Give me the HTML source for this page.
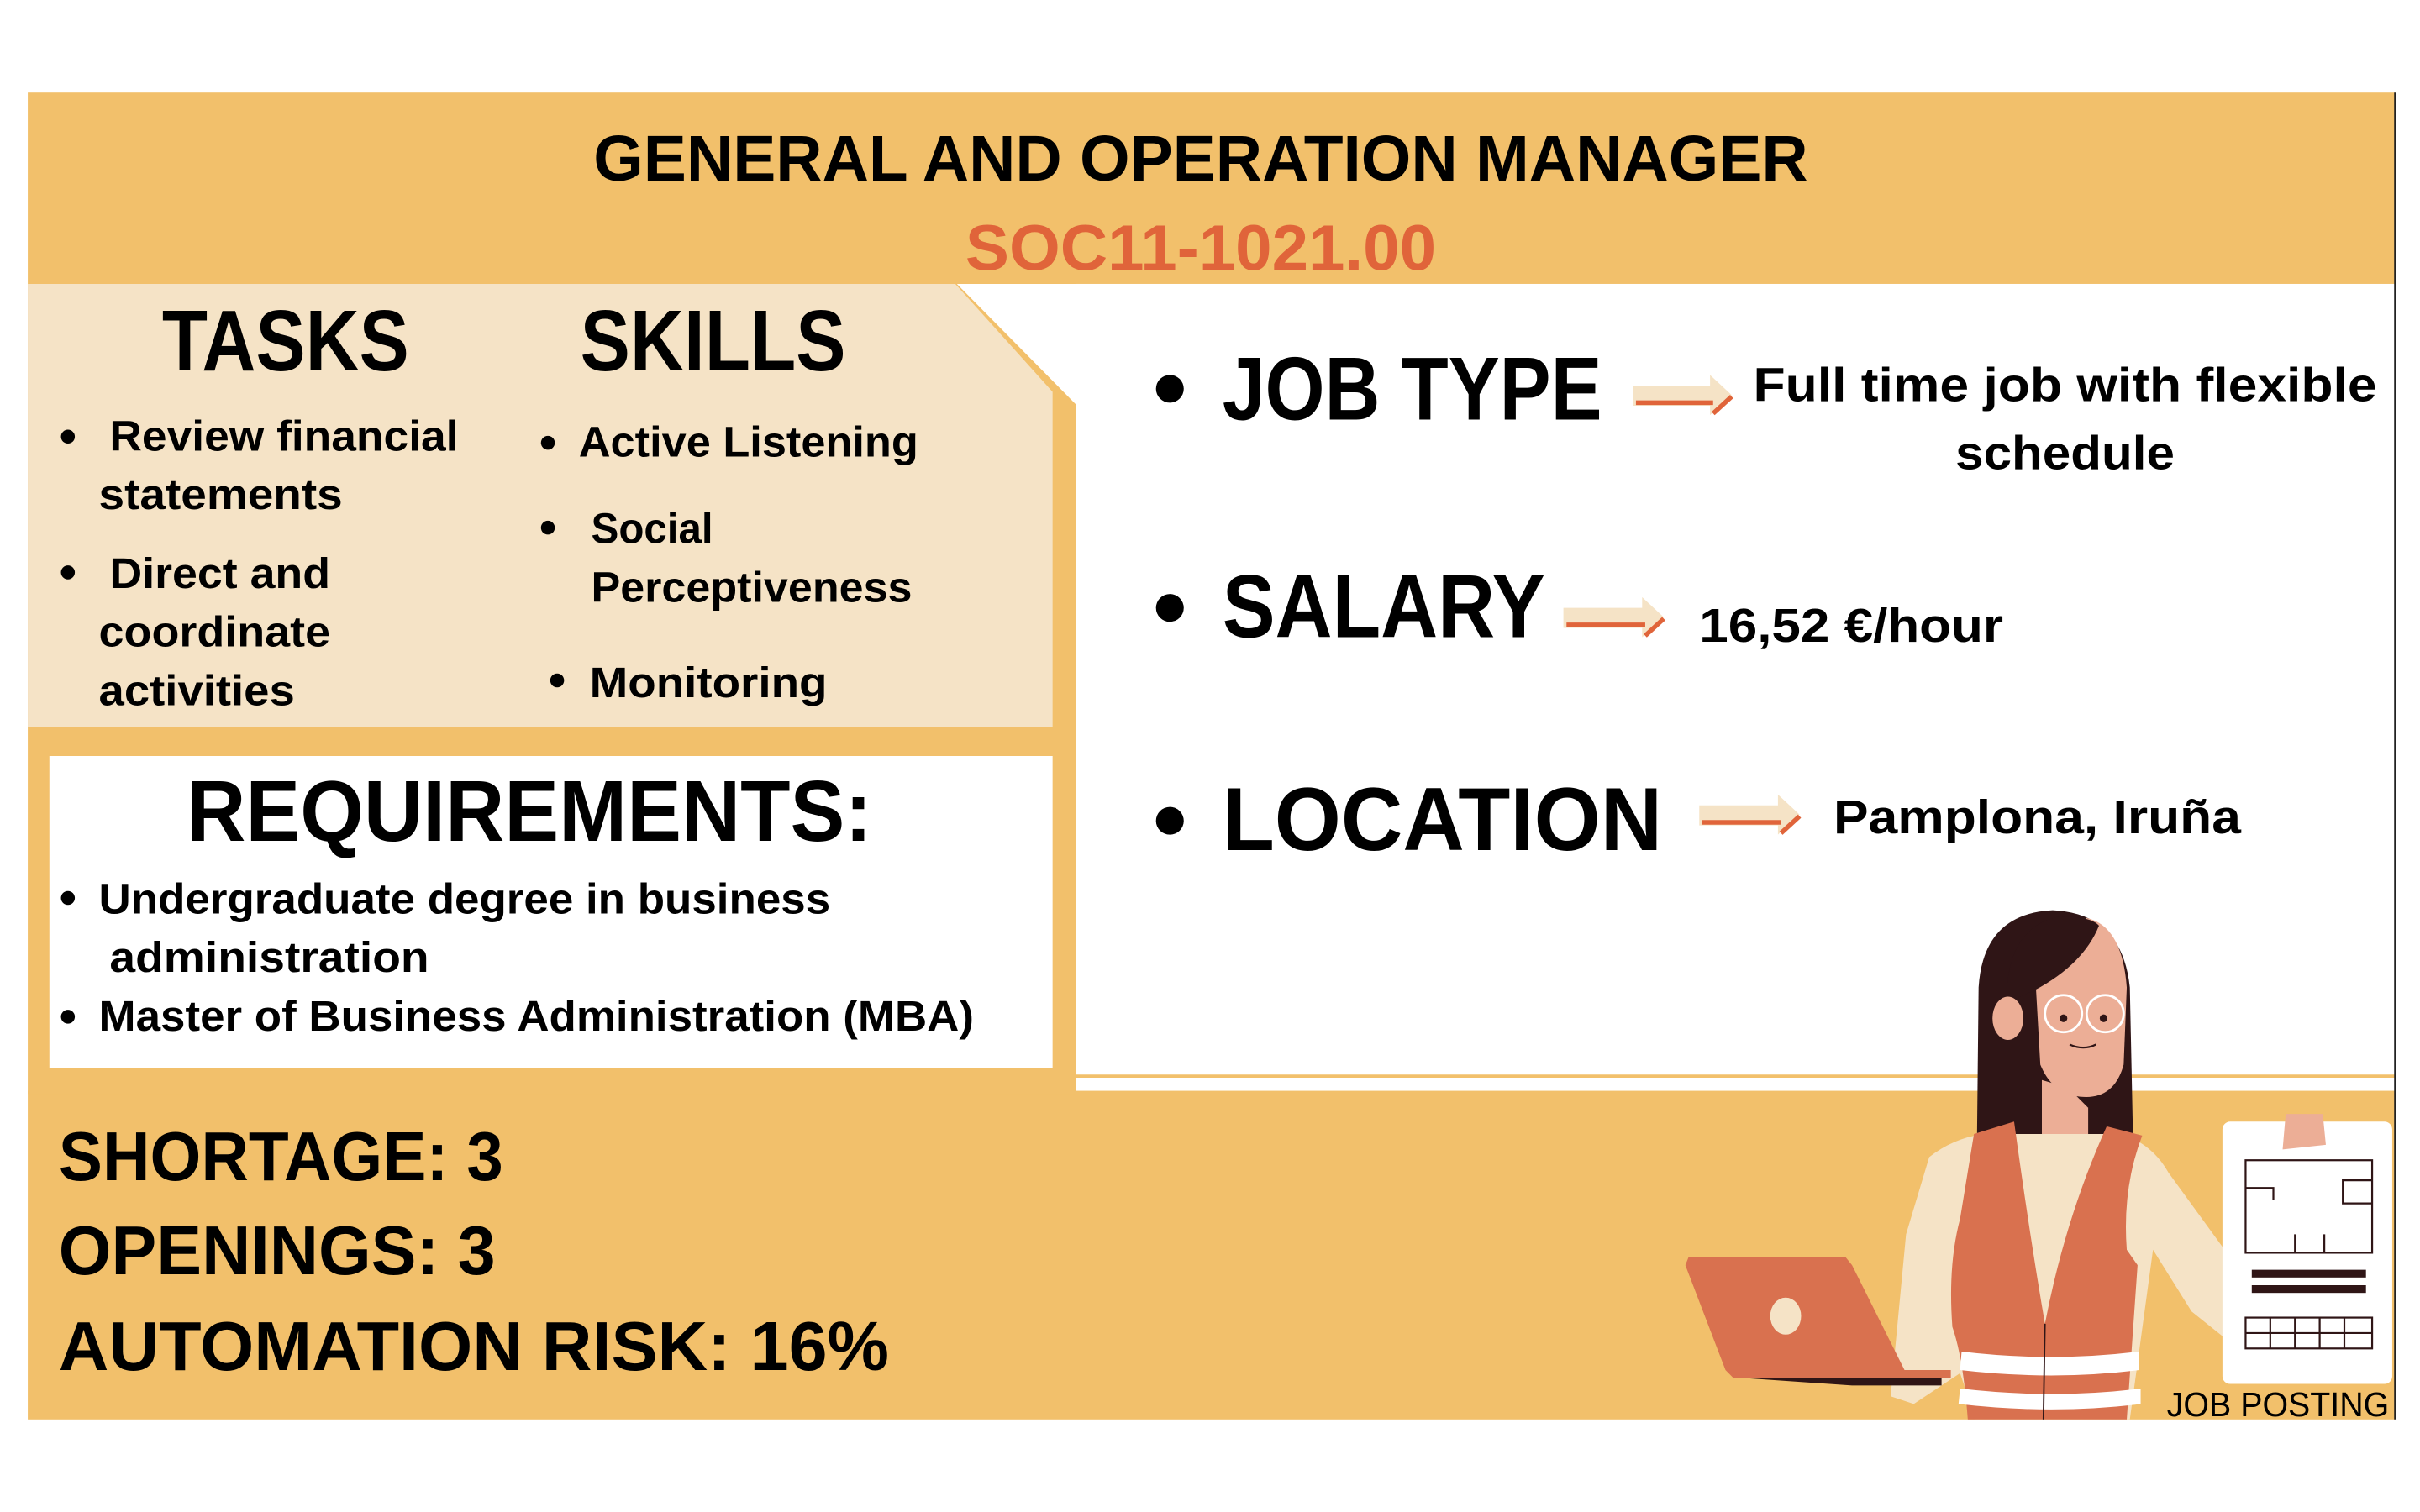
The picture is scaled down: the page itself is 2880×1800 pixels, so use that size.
<!DOCTYPE html>
<html><head><meta charset="utf-8"><style>
html,body{margin:0;padding:0;background:#fff;width:2880px;height:1800px;overflow:hidden}
svg{display:block}
text{font-family:"Liberation Sans",sans-serif;font-weight:bold;fill:#000}
</style></head><body>
<svg width="2880" height="1800" viewBox="0 0 1568 980" xmlns="http://www.w3.org/2000/svg">
<rect x="0" y="0" width="1568" height="980" fill="#fff"/>
<rect x="18" y="60" width="1534" height="125" fill="#f2c06b"/>
<rect x="18" y="707" width="1534" height="213" fill="#f2c06b"/>
<rect x="18" y="184" width="679" height="525" fill="#f2c06b"/>
<rect x="697" y="184" width="855" height="513" fill="#fff"/>
<line x1="697" y1="697.5" x2="1552" y2="697.5" stroke="#f2c06b" stroke-width="2"/>
<polygon points="620,184 697,184 697,262" fill="#fff"/>
<polygon points="18,184 619,184 682,254 682,471 18,471" fill="#f5e3c6"/>
<rect x="32" y="490" width="650" height="202" fill="#fff"/>
<line x1="1552" y1="60" x2="1552" y2="920" stroke="#222" stroke-width="1.5"/>

<text x="778" y="117" text-anchor="middle" font-size="42" textLength="787" lengthAdjust="spacingAndGlyphs">GENERAL AND OPERATION MANAGER</text>
<text x="778" y="175" text-anchor="middle" font-size="42" style="fill:#e0643a" textLength="305" lengthAdjust="spacingAndGlyphs">SOC11-1021.00</text>

<text x="185" y="240" text-anchor="middle" font-size="56" textLength="160" lengthAdjust="spacingAndGlyphs">TASKS</text>
<text x="462" y="240" text-anchor="middle" font-size="56" textLength="172" lengthAdjust="spacingAndGlyphs">SKILLS</text>

<g font-size="28">
<circle cx="44" cy="283" r="4.5"/><text x="71" y="292" textLength="226" lengthAdjust="spacingAndGlyphs">Review financial</text>
<text x="64" y="330" textLength="158" lengthAdjust="spacingAndGlyphs">statements</text>
<circle cx="44" cy="371" r="4.5"/><text x="71" y="381" textLength="143" lengthAdjust="spacingAndGlyphs">Direct and</text>
<text x="64" y="419" textLength="150" lengthAdjust="spacingAndGlyphs">coordinate</text>
<text x="64" y="457" textLength="127" lengthAdjust="spacingAndGlyphs">activities</text>
</g>
<g font-size="28">
<circle cx="355" cy="287" r="4.5"/><text x="375" y="296" textLength="220" lengthAdjust="spacingAndGlyphs">Active Listening</text>
<circle cx="355" cy="342" r="4.5"/><text x="383" y="352" textLength="79" lengthAdjust="spacingAndGlyphs">Social</text>
<text x="383" y="390" textLength="208" lengthAdjust="spacingAndGlyphs">Perceptiveness</text>
<circle cx="361" cy="441" r="4.5"/><text x="382" y="452" textLength="154" lengthAdjust="spacingAndGlyphs">Monitoring</text>
</g>

<text x="343" y="545" text-anchor="middle" font-size="56" textLength="444" lengthAdjust="spacingAndGlyphs">REQUIREMENTS:</text>
<g font-size="28">
<circle cx="44" cy="582" r="4.5"/><text x="64" y="592" textLength="474" lengthAdjust="spacingAndGlyphs">Undergraduate degree in business</text>
<text x="71" y="630" textLength="207" lengthAdjust="spacingAndGlyphs">administration</text>
<circle cx="44" cy="659" r="4.5"/><text x="64" y="668" textLength="567" lengthAdjust="spacingAndGlyphs">Master of Business Administration (MBA)</text>
</g>

<text x="38" y="765" font-size="45" textLength="288" lengthAdjust="spacingAndGlyphs">SHORTAGE: 3</text>
<text x="38" y="826" font-size="45" textLength="283" lengthAdjust="spacingAndGlyphs">OPENINGS: 3</text>
<text x="38" y="888" font-size="45" textLength="538" lengthAdjust="spacingAndGlyphs">AUTOMATION RISK: 16%</text>

<g>
<circle cx="758" cy="252" r="9"/>
<text x="792" y="272" font-size="58" textLength="246" lengthAdjust="spacingAndGlyphs">JOB TYPE</text>
<g><polygon points="1058,250 1108,250 1108,243 1122,256 1108,269 1108,263 1058,263" fill="#f5e3c6"/><line x1="1060" y1="261" x2="1110" y2="261" stroke="#e0643a" stroke-width="3"/><polyline points="1110,268 1122,257" stroke="#e0643a" stroke-width="3" fill="none"/></g>
<text x="1338" y="260" text-anchor="middle" font-size="31" textLength="404" lengthAdjust="spacingAndGlyphs">Full time job with flexible</text>
<text x="1338" y="304" text-anchor="middle" font-size="31" textLength="142" lengthAdjust="spacingAndGlyphs">schedule</text>
</g>
<g>
<circle cx="758" cy="394" r="9"/>
<text x="792" y="413" font-size="58" textLength="209" lengthAdjust="spacingAndGlyphs">SALARY</text>
<g><polygon points="1013,394 1064,394 1064,387 1078,400 1064,413 1064,407 1013,407" fill="#f5e3c6"/><line x1="1015" y1="405" x2="1066" y2="405" stroke="#e0643a" stroke-width="3"/><polyline points="1066,412 1078,401" stroke="#e0643a" stroke-width="3" fill="none"/></g>
<text x="1101" y="416" font-size="31" textLength="197" lengthAdjust="spacingAndGlyphs">16,52 €/hour</text>
</g>
<g>
<circle cx="758" cy="532" r="9"/>
<text x="792" y="551" font-size="58" textLength="285" lengthAdjust="spacingAndGlyphs">LOCATION</text>
<g><polygon points="1101,522 1152,522 1152,515 1166,528 1152,541 1152,535 1101,535" fill="#f5e3c6"/><line x1="1103" y1="533" x2="1154" y2="533" stroke="#e0643a" stroke-width="3"/><polyline points="1154,540 1166,529" stroke="#e0643a" stroke-width="3" fill="none"/></g>
<text x="1188" y="540" font-size="31" textLength="264" lengthAdjust="spacingAndGlyphs">Pamplona, Iruña</text>
</g>

<g>
<path d="M1281,735 L1282,640 Q1285,592 1330,590 Q1375,592 1380,640 L1382,735 Z" fill="#2f1516"/>
<path d="M1323,700 L1323,735 L1353,735 L1353,718 L1340,705 Z" fill="#ecae96"/>
<path d="M1318,620 Q1345,600 1352,595 Q1375,600 1378,640 L1376,690 Q1370,712 1350,711 Q1330,710 1322,690 Z" fill="#ecae96"/>
<path d="M1300,650 Q1300,600 1335,594 Q1355,594 1360,600 Q1350,625 1318,642 Z" fill="#2f1516"/>
<ellipse cx="1301" cy="660" rx="10" ry="14" fill="#ecae96"/>
<circle cx="1337" cy="657" r="12" fill="none" stroke="#fff" stroke-width="1.5"/>
<circle cx="1364" cy="657" r="12" fill="none" stroke="#fff" stroke-width="1.5"/>
<circle cx="1337" cy="660" r="2.5" fill="#2f1516"/><circle cx="1363" cy="660" r="2.5" fill="#2f1516"/>
<path d="M1341,677 Q1350,681 1358,677" stroke="#2f1516" stroke-width="1.2" fill="none"/>
<path d="M1250,750 Q1265,738 1285,735 L1375,735 Q1395,742 1405,760 L1445,815 L1445,870 L1420,850 L1395,810 L1380,920 L1280,920 L1270,890 L1240,910 L1225,905 L1235,800 Z" fill="#f5e3c6"/>
<path d="M1279,735 L1305,727 Q1315,800 1325,858 Q1338,790 1365,730 L1388,736 Q1375,770 1378,810 L1385,820 L1378,920 L1275,920 Q1272,880 1265,860 Q1262,820 1270,790 Z" fill="#d9714f"/>
<path d="M1271,876 Q1330,883 1386,876 L1386,888 Q1330,895 1270,888 Z" fill="#fff"/>
<path d="M1270,900 Q1330,907 1387,900 L1387,910 Q1330,917 1269,910 Z" fill="#fff"/>
<line x1="1325" y1="858" x2="1324" y2="920" stroke="#2f1516" stroke-width="1"/>
<polygon points="1092,820 1094,815 1196,815 1200,820 1234,888 1264,888 1264,893 1123,893 1118,888" fill="#d9714f"/>
<polygon points="1128,893 1258,893 1258,898 1200,898" fill="#2f1516"/>
<ellipse cx="1157" cy="853" rx="10" ry="12" fill="#f5e3c6"/>
<rect x="1440" y="727" width="110" height="170" rx="5" fill="#fff"/>
<path d="M1479,745 L1481,722 L1505,722 L1507,742 Z" fill="#ecae96"/>
<g stroke="#2f1516" stroke-width="1.2" fill="none">
<rect x="1455" y="752" width="82" height="60"/>
<polyline points="1455,770 1473,770 1473,778"/><polyline points="1537,765 1518,765 1518,780 1537,780"/>
<line x1="1487" y1="812" x2="1487" y2="800"/><line x1="1506" y1="812" x2="1506" y2="800"/>
<rect x="1455" y="854" width="82" height="20"/><line x1="1455" y1="864" x2="1537" y2="864"/>
<line x1="1471" y1="854" x2="1471" y2="874"/><line x1="1487" y1="854" x2="1487" y2="874"/><line x1="1503" y1="854" x2="1503" y2="874"/><line x1="1519" y1="854" x2="1519" y2="874"/>
</g>
<rect x="1459" y="823" width="74" height="5" fill="#2f1516"/><rect x="1459" y="833" width="74" height="5" fill="#2f1516"/>
</g>
<text x="1404" y="918" font-size="22" style="font-weight:normal" textLength="144" lengthAdjust="spacingAndGlyphs">JOB POSTING</text>
</svg>
</body></html>
